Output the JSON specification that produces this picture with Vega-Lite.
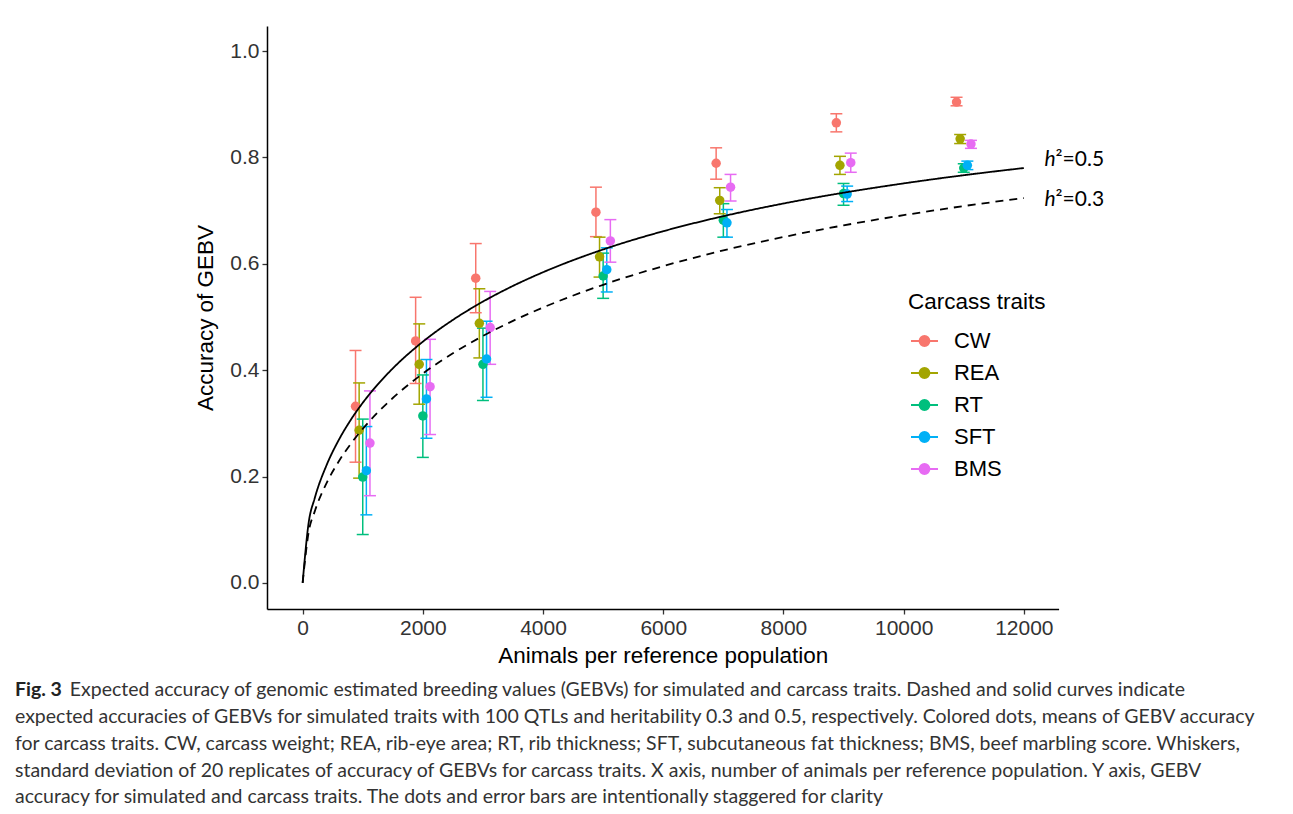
{
  "$schema": "https://vega.github.io/schema/vega-lite/v6.json",
  "width": 791.6,
  "height": 583,
  "padding": {"left": 15, "top": 26, "right": 0, "bottom": 0},
  "background": "white",
  "datasets": {
    "traits": [
      {"trait": "CW", "pop": 1000, "n": 880, "acc": 0.332, "lo": 0.227, "hi": 0.437},
      {"trait": "REA", "pop": 1000, "n": 940, "acc": 0.287, "lo": 0.197, "hi": 0.376},
      {"trait": "RT", "pop": 1000, "n": 1000, "acc": 0.199, "lo": 0.091, "hi": 0.308},
      {"trait": "SFT", "pop": 1000, "n": 1060, "acc": 0.211, "lo": 0.128, "hi": 0.294},
      {"trait": "BMS", "pop": 1000, "n": 1120, "acc": 0.263, "lo": 0.164, "hi": 0.361},
      {"trait": "CW", "pop": 2000, "n": 1880, "acc": 0.455, "lo": 0.375, "hi": 0.537},
      {"trait": "REA", "pop": 2000, "n": 1940, "acc": 0.411, "lo": 0.336, "hi": 0.487},
      {"trait": "RT", "pop": 2000, "n": 2000, "acc": 0.314, "lo": 0.236, "hi": 0.391},
      {"trait": "SFT", "pop": 2000, "n": 2060, "acc": 0.346, "lo": 0.272, "hi": 0.420},
      {"trait": "BMS", "pop": 2000, "n": 2120, "acc": 0.369, "lo": 0.279, "hi": 0.458},
      {"trait": "CW", "pop": 3000, "n": 2880, "acc": 0.573, "lo": 0.508, "hi": 0.638},
      {"trait": "REA", "pop": 3000, "n": 2940, "acc": 0.488, "lo": 0.423, "hi": 0.553},
      {"trait": "RT", "pop": 3000, "n": 3000, "acc": 0.411, "lo": 0.343, "hi": 0.479},
      {"trait": "SFT", "pop": 3000, "n": 3060, "acc": 0.421, "lo": 0.349, "hi": 0.492},
      {"trait": "BMS", "pop": 3000, "n": 3120, "acc": 0.480, "lo": 0.411, "hi": 0.548},
      {"trait": "CW", "pop": 5000, "n": 4880, "acc": 0.697, "lo": 0.651, "hi": 0.744},
      {"trait": "REA", "pop": 5000, "n": 4940, "acc": 0.613, "lo": 0.575, "hi": 0.650},
      {"trait": "RT", "pop": 5000, "n": 5000, "acc": 0.577, "lo": 0.535, "hi": 0.620},
      {"trait": "SFT", "pop": 5000, "n": 5060, "acc": 0.589, "lo": 0.547, "hi": 0.630},
      {"trait": "BMS", "pop": 5000, "n": 5120, "acc": 0.643, "lo": 0.603, "hi": 0.683},
      {"trait": "CW", "pop": 7000, "n": 6880, "acc": 0.789, "lo": 0.759, "hi": 0.818},
      {"trait": "REA", "pop": 7000, "n": 6940, "acc": 0.719, "lo": 0.694, "hi": 0.743},
      {"trait": "RT", "pop": 7000, "n": 7000, "acc": 0.682, "lo": 0.650, "hi": 0.713},
      {"trait": "SFT", "pop": 7000, "n": 7060, "acc": 0.677, "lo": 0.650, "hi": 0.702},
      {"trait": "BMS", "pop": 7000, "n": 7120, "acc": 0.744, "lo": 0.718, "hi": 0.768},
      {"trait": "CW", "pop": 9000, "n": 8880, "acc": 0.865, "lo": 0.848, "hi": 0.882},
      {"trait": "REA", "pop": 9000, "n": 8940, "acc": 0.785, "lo": 0.768, "hi": 0.802},
      {"trait": "RT", "pop": 9000, "n": 9000, "acc": 0.732, "lo": 0.710, "hi": 0.751},
      {"trait": "SFT", "pop": 9000, "n": 9060, "acc": 0.731, "lo": 0.717, "hi": 0.746},
      {"trait": "BMS", "pop": 9000, "n": 9120, "acc": 0.790, "lo": 0.772, "hi": 0.808},
      {"trait": "CW", "pop": 11000, "n": 10880, "acc": 0.904, "lo": 0.897, "hi": 0.913},
      {"trait": "REA", "pop": 11000, "n": 10940, "acc": 0.835, "lo": 0.826, "hi": 0.843},
      {"trait": "RT", "pop": 11000, "n": 11000, "acc": 0.780, "lo": 0.772, "hi": 0.788},
      {"trait": "SFT", "pop": 11000, "n": 11060, "acc": 0.785, "lo": 0.777, "hi": 0.793},
      {"trait": "BMS", "pop": 11000, "n": 11120, "acc": 0.825, "lo": 0.817, "hi": 0.832}
    ],
    "curves": [
      {"h2": "0.5", "n": 0, "acc": 0},
      {"h2": "0.5", "n": 100, "acc": 0.1131},
      {"h2": "0.5", "n": 200, "acc": 0.1589},
      {"h2": "0.5", "n": 400, "acc": 0.2219},
      {"h2": "0.5", "n": 600, "acc": 0.2685},
      {"h2": "0.5", "n": 800, "acc": 0.3064},
      {"h2": "0.5", "n": 1000, "acc": 0.3386},
      {"h2": "0.5", "n": 1250, "acc": 0.3732},
      {"h2": "0.5", "n": 1500, "acc": 0.4033},
      {"h2": "0.5", "n": 2000, "acc": 0.4535},
      {"h2": "0.5", "n": 2500, "acc": 0.4945},
      {"h2": "0.5", "n": 3000, "acc": 0.5289},
      {"h2": "0.5", "n": 3500, "acc": 0.5584},
      {"h2": "0.5", "n": 4000, "acc": 0.5841},
      {"h2": "0.5", "n": 5000, "acc": 0.6269},
      {"h2": "0.5", "n": 6000, "acc": 0.6612},
      {"h2": "0.5", "n": 7000, "acc": 0.6895},
      {"h2": "0.5", "n": 8000, "acc": 0.7133},
      {"h2": "0.5", "n": 9000, "acc": 0.7336},
      {"h2": "0.5", "n": 10000, "acc": 0.7511},
      {"h2": "0.5", "n": 11000, "acc": 0.7665},
      {"h2": "0.5", "n": 12000, "acc": 0.7800},
      {"h2": "0.3", "n": 0, "acc": 0},
      {"h2": "0.3", "n": 100, "acc": 0.0953},
      {"h2": "0.3", "n": 200, "acc": 0.1341},
      {"h2": "0.3", "n": 400, "acc": 0.1880},
      {"h2": "0.3", "n": 600, "acc": 0.2283},
      {"h2": "0.3", "n": 800, "acc": 0.2613},
      {"h2": "0.3", "n": 1000, "acc": 0.2897},
      {"h2": "0.3", "n": 1250, "acc": 0.3205},
      {"h2": "0.3", "n": 1500, "acc": 0.3476},
      {"h2": "0.3", "n": 2000, "acc": 0.3935},
      {"h2": "0.3", "n": 2500, "acc": 0.4317},
      {"h2": "0.3", "n": 3000, "acc": 0.4643},
      {"h2": "0.3", "n": 3500, "acc": 0.4927},
      {"h2": "0.3", "n": 4000, "acc": 0.5178},
      {"h2": "0.3", "n": 5000, "acc": 0.5605},
      {"h2": "0.3", "n": 6000, "acc": 0.5956},
      {"h2": "0.3", "n": 7000, "acc": 0.6251},
      {"h2": "0.3", "n": 8000, "acc": 0.6503},
      {"h2": "0.3", "n": 9000, "acc": 0.6722},
      {"h2": "0.3", "n": 10000, "acc": 0.6914},
      {"h2": "0.3", "n": 11000, "acc": 0.7085},
      {"h2": "0.3", "n": 12000, "acc": 0.7236}
    ],
    "labels": [
      {"h": "h", "rest": "²=0.5", "n": 12345, "acc": 0.796},
      {"h": "h", "rest": "²=0.3", "n": 12345, "acc": 0.719}
    ]
  },
  "title": {
    "text": "Fig. 3",
    "subtitle": [
      "\u200b\u00a0\u00a0\u00a0\u00a0\u00a0\u00a0\u00a0\u00a0\u00a0\u00a0\u00a0Expected accuracy of genomic estimated breeding values (GEBVs) for simulated and carcass traits. Dashed and solid curves indicate",
      "expected accuracies of GEBVs for simulated traits with 100 QTLs and heritability 0.3 and 0.5, respectively. Colored dots, means of GEBV accuracy",
      "for carcass traits. CW, carcass weight; REA, rib-eye area; RT, rib thickness; SFT, subcutaneous fat thickness; BMS, beef marbling score. Whiskers,",
      "standard deviation of 20 replicates of accuracy of GEBVs for carcass traits. X axis, number of animals per reference population. Y axis, GEBV",
      "accuracy for simulated and carcass traits. The dots and error bars are intentionally staggered for clarity"
    ],
    "orient": "bottom",
    "anchor": "start",
    "frame": "group",
    "dx": -252,
    "offset": 14,
    "font": "Lato",
    "fontSize": 19.5,
    "fontWeight": "bold",
    "color": "#222222",
    "subtitleFont": "Lato",
    "subtitleFontSize": 19.5,
    "subtitleFontWeight": "normal",
    "subtitleColor": "#333333",
    "subtitleLineHeight": 26.7,
    "subtitlePadding": -19.5
  },
  "encoding": {
    "x": {
      "field": "n",
      "type": "quantitative",
      "scale": {"domain": [-593, 12578], "nice": false, "zero": false},
      "axis": {
        "title": "Animals per reference population",
        "values": [0, 2000, 4000, 6000, 8000, 10000, 12000],
        "format": "d"
      }
    },
    "y": {
      "field": "acc",
      "type": "quantitative",
      "scale": {"domain": [-0.049, 1.047], "nice": false, "zero": false},
      "axis": {
        "title": "Accuracy of GEBV",
        "values": [0, 0.2, 0.4, 0.6, 0.8, 1.0],
        "format": ".1f"
      }
    }
  },
  "layer": [
    {
      "data": {"name": "traits"},
      "mark": {"type": "rule", "strokeWidth": 1.5},
      "encoding": {
        "y": {"field": "lo", "type": "quantitative"},
        "y2": {"field": "hi"},
        "color": {
          "field": "trait",
          "type": "nominal",
          "scale": {"domain": ["CW", "REA", "RT", "SFT", "BMS"], "range": ["#F8766D", "#A3A500", "#00BF7D", "#00B0F6", "#E76BF3"]},
          "legend": {"title": "Carcass traits"}
        }
      }
    },
    {
      "data": {"name": "traits"},
      "mark": {"type": "point", "shape": "M-1,0L1,0", "size": 144, "strokeWidth": 1.5, "filled": false, "opacity": 1},
      "encoding": {
        "y": {"field": "lo", "type": "quantitative"},
        "color": {"field": "trait", "type": "nominal"}
      }
    },
    {
      "data": {"name": "traits"},
      "mark": {"type": "point", "shape": "M-1,0L1,0", "size": 144, "strokeWidth": 1.5, "filled": false, "opacity": 1},
      "encoding": {
        "y": {"field": "hi", "type": "quantitative"},
        "color": {"field": "trait", "type": "nominal"}
      }
    },
    {
      "data": {"name": "traits"},
      "mark": {"type": "point", "shape": "circle", "size": 90, "filled": true, "opacity": 1},
      "encoding": {
        "color": {"field": "trait", "type": "nominal"}
      }
    },
    {
      "data": {"name": "curves"},
      "mark": {"type": "line", "color": "black", "strokeWidth": 1.8, "interpolate": "monotone"},
      "encoding": {
        "detail": {"field": "h2", "type": "nominal"},
        "strokeDash": {
          "field": "h2",
          "type": "nominal",
          "scale": {"domain": ["0.5", "0.3"], "range": [[1, 0], [8, 6]]},
          "legend": null
        }
      }
    },
    {
      "data": {"name": "labels"},
      "mark": {"type": "text", "align": "left", "baseline": "middle", "font": "Lato", "fontSize": 21, "fontStyle": "italic", "color": "black"},
      "encoding": {"text": {"field": "h"}}
    },
    {
      "data": {"name": "labels"},
      "mark": {"type": "text", "align": "left", "baseline": "middle", "dx": 11, "font": "Lato", "fontSize": 21, "color": "black"},
      "encoding": {"text": {"field": "rest"}}
    }
  ],
  "resolve": {"scale": {"color": "shared"}},
  "config": {
    "view": {"stroke": null},
    "font": "Liberation Sans",
    "axis": {
      "grid": false,
      "domainColor": "black",
      "domainWidth": 1.5,
      "tickColor": "#333333",
      "tickWidth": 1.3,
      "tickSize": 5,
      "labelFont": "Liberation Sans",
      "labelFontSize": 21,
      "labelColor": "#333333",
      "titleFont": "Liberation Sans",
      "titleFontSize": 22.5,
      "titleFontWeight": "normal",
      "titleColor": "black"
    },
    "axisX": {"labelPadding": 4, "titlePadding": 6},
    "axisY": {"labelPadding": 3, "titlePadding": 12},
    "legend": {
      "orient": "none",
      "legendX": 641,
      "legendY": 265,
      "padding": 0,
      "titleFont": "Liberation Sans",
      "titleFontSize": 22.5,
      "titleFontWeight": "normal",
      "titleColor": "black",
      "titlePadding": 13,
      "labelFont": "Liberation Sans",
      "labelFontSize": 22,
      "labelColor": "black",
      "labelOffset": 15,
      "rowPadding": 6,
      "symbolType": "M-1,0L1,0M0.37,0A0.37,0.37,0,1,1,-0.37,0A0.37,0.37,0,1,1,0.37,0Z",
      "symbolSize": 729,
      "symbolStrokeWidth": 1.8,
      "symbolOffset": 2,
      "symbolOpacity": 1
    }
  }
}
